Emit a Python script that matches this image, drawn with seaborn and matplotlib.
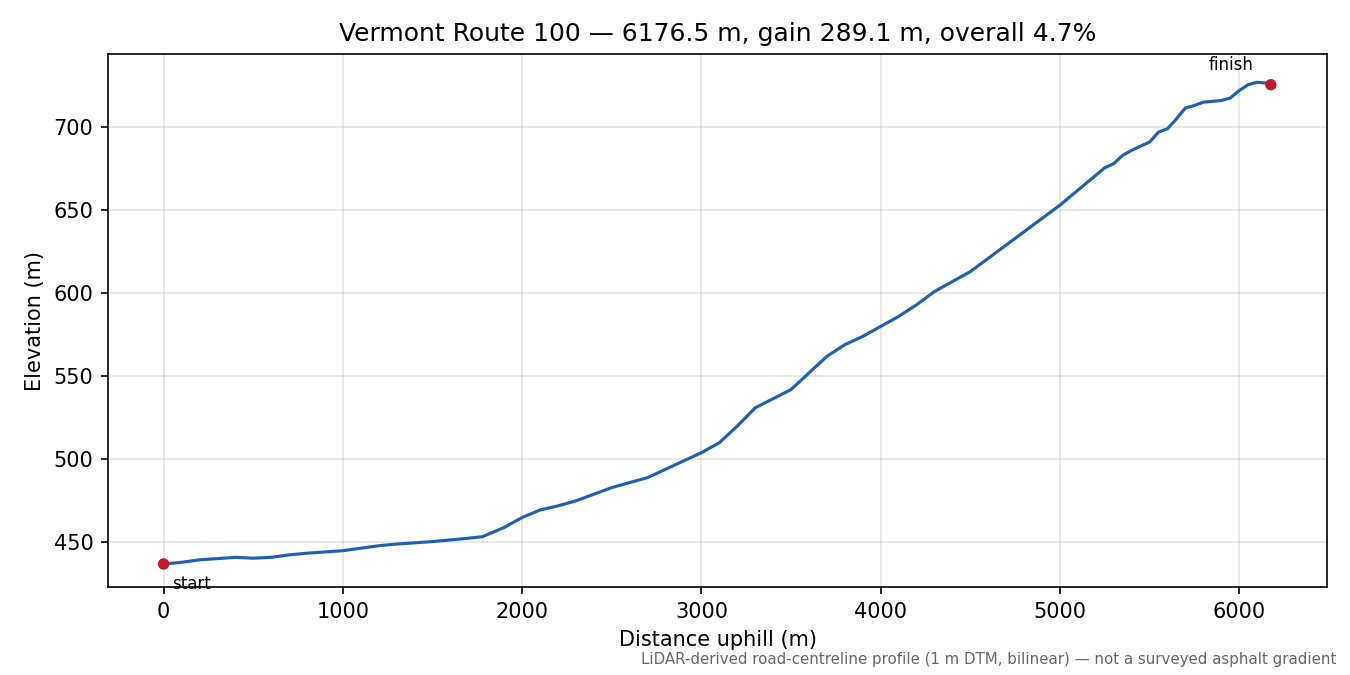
import matplotlib
matplotlib.use("Agg")
import matplotlib.pyplot as plt
import seaborn as sns
import pandas as pd

# Profile
distance = [0, 100, 200, 400, 500, 600, 700, 800, 1000, 1100, 1200, 1300, 1500, 1700, 1780,
            1900, 2000, 2100, 2200, 2300, 2400, 2500, 2600, 2700, 2800, 2900, 3000, 3100,
            3200, 3300, 3400, 3500, 3600, 3700, 3800, 3900, 4000, 4100, 4200, 4300, 4400,
            4500, 4600, 4700, 4800, 4900, 5000, 5100, 5200, 5250, 5300, 5350, 5400, 5500,
            5550, 5600, 5650, 5700, 5750, 5800, 5900, 5950, 6000, 6050, 6100, 6150, 6176.5]
elevation = [437, 438, 439.5, 441, 440.5, 441, 442.5, 443.5, 445, 446.5, 448, 449, 450.5, 452.5, 453.5,
             459, 465, 469.5, 472, 475, 479, 483, 486, 489, 494, 499, 504, 510,
             520, 531, 536.5, 542, 552, 562, 569, 574, 580, 586, 593, 601, 607,
             613, 621, 629, 637, 645, 653, 662, 671, 675.5, 678, 683, 686, 691,
             697, 699, 705, 711.5, 713, 715, 716, 717.5, 722, 725.5, 727, 726.5, 725.5]

df = pd.DataFrame({"distance": distance, "elevation": elevation})

plt.rcParams["font.family"] = ["DejaVu Sans"]
fig, ax = plt.subplots(figsize=(9, 4.5), dpi=150)
sns.lineplot(data=df, x="distance", y="elevation", ax=ax, color="#1f5fb4", linewidth=1.5)

ends = df.iloc[[0, -1]]
sns.scatterplot(data=ends, x="distance", y="elevation", ax=ax, color="#c0192a", s=30,
                edgecolor="none", zorder=5)
ax.annotate("start", (distance[0], elevation[0]), xytext=(4, -12), textcoords="offset points",
            fontsize=8)
ax.annotate("finish", (distance[-1], elevation[-1]), xytext=(-30, 7), textcoords="offset points",
            fontsize=8)

ax.grid(True, color="#b0b0b0", alpha=0.35, linewidth=0.8)
ax.set_xlim(-310, 6490)
ax.set_ylim(423, 744)
ax.set_xlabel("Distance uphill (m)")
ax.set_ylabel("Elevation (m)")
ax.set_title("Vermont Route 100 \u2014 6176.5 m, gain 289.1 m, overall 4.7%")
fig.text(0.99, 0.012, "LiDAR-derived road-centreline profile (1 m DTM, bilinear) \u2014 not a surveyed asphalt gradient",
         ha="right", va="bottom", fontsize=7.2, color="#666666")
fig.subplots_adjust(left=0.08, right=0.983, top=0.92, bottom=0.13)
fig.savefig("out.png")
